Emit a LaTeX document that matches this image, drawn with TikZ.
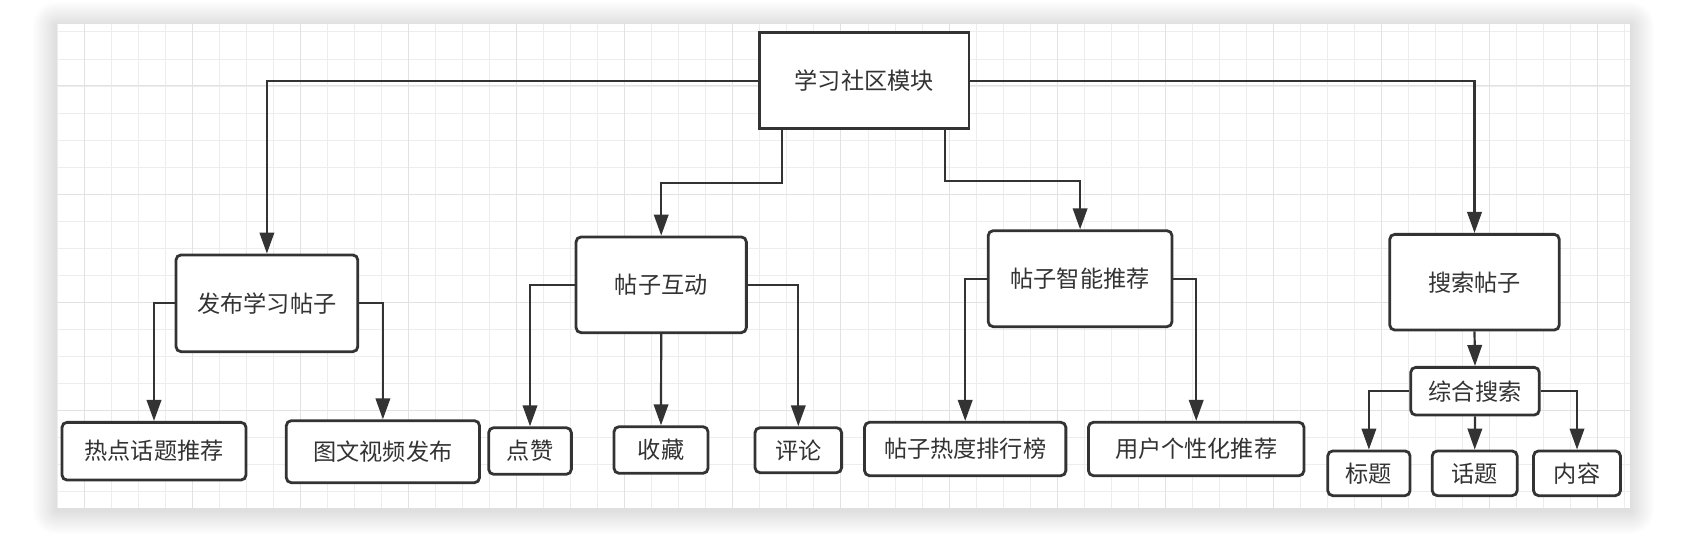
\documentclass[tikz,border=0pt]{standalone}
\usepackage{fontspec}
\newfontfamily\cjk{Noto Sans CJK SC}
\usetikzlibrary{arrows.meta}
\definecolor{ink}{HTML}{333333}
\definecolor{gridminor}{HTML}{EDEDED}
\definecolor{gridmajor}{HTML}{E2E2E2}
\tikzset{
  boxbase/.style={draw=ink, line width=0.056cm, fill=white, text=ink, inner sep=0pt,
    font=\cjk\fontsize{13.2}{15.8}\selectfont},
  rbox/.style 2 args={boxbase, rounded corners=0.1cm, minimum width={#1*0.02cm}, minimum height={#2*0.02cm}},
  sbox/.style 2 args={boxbase, minimum width={#1*0.02cm}, minimum height={#2*0.02cm}},
  conn/.style={draw=ink, line width=0.044cm, -{Triangle[length=0.42cm,width=0.29cm]}},
}
\begin{document}
\begin{tikzpicture}[x=0.02cm,y=-0.02cm]
\useasboundingbox (0,0) rectangle (1701,544);
\fill[white] (0,0) rectangle (1701,544);
% shadow
\foreach \k in {1,...,16}{
  \fill[black, opacity=0.008, rounded corners={0.03cm*\k}] ({57-1.5*\k},{24-1.5*\k+2}) rectangle ({1630+1.5*\k},{508+1.5*\k+2});
}
\fill[white] (57,24) rectangle (1630,508);
% grid
\begin{scope}
\clip (57,24) rectangle (1630,508);
\foreach \i in {0,...,58}{
  \draw[gridminor, line width=0.02cm] ({57.4+27.02*\i},24) -- ({57.4+27.02*\i},508);
}
\foreach \j in {0,...,17}{
  \draw[gridminor, line width=0.02cm] (57,{32+27.02*\j}) -- (1630,{32+27.02*\j});
}
\foreach \i in {0,...,14}{
  \draw[gridmajor, line width=0.02cm] ({84.4+108.08*\i},24) -- ({84.4+108.08*\i},508);
}
\foreach \j in {0,...,3}{
  \draw[gridmajor, line width=0.02cm] (57,{86+108.08*\j}) -- (1630,{86+108.08*\j});
}
\end{scope}
% nodes
\node[sbox={209.7}{96}] (top) at (864.2,80.7) {学习社区模块};
\node[rbox={181.8}{96.7}] (fb) at (266.9,303.3) {发布学习帖子};
\node[rbox={170.3}{95.7}] (hd) at (661.2,284.8) {帖子互动};
\node[rbox={183.8}{96}] (zn) at (1080.1,278.7) {帖子智能推荐};
\node[rbox={169.5}{95.7}] (ss) at (1474.5,282.2) {搜索帖子};
\node[rbox={184}{57.7}] (rd) at (154,451.2) {热点话题推荐};
\node[rbox={193.2}{62}] (tw) at (382.9,451.7) {图文视频发布};
\node[rbox={82.7}{46.6}] (dz) at (530,451) {点赞};
\node[rbox={94}{46.6}] (sc) at (661,450) {收藏};
\node[rbox={86.6}{45}] (pl) at (798.3,450.2) {评论};
\node[rbox={201.3}{53.4}] (rk) at (965.2,449) {帖子热度排行榜};
\node[rbox={215.5}{53.4}] (gx) at (1196.2,449) {用户个性化推荐};
\node[rbox={128.5}{47.7}] (zh) at (1475,391.2) {综合搜索};
\node[rbox={82.3}{44.7}] (bt) at (1368.9,473.3) {标题};
\node[rbox={84.9}{44.7}] (ht) at (1474.7,473.3) {话题};
\node[rbox={86.9}{44.7}] (nr) at (1577,473.3) {内容};
% bend points
\coordinate (b1) at (782.3,183.3);
\coordinate (b2) at (945.3,181);
% connectors
\draw[conn] (top.west) -| (fb.north);
\draw[conn] (top.east) -| (ss.north);
\draw[conn] (b1 |- top.south) -- (b1) -| (hd.north);
\draw[conn] (b2 |- top.south) -- (b2) -| (zn.north);
\draw[conn] (fb.west) -| (rd.north);
\draw[conn] (fb.east) -| (tw.north);
\draw[conn] (hd.west) -| (dz.north);
\draw[conn] (hd.south) -- (sc.north);
\draw[conn] (hd.east) -| (pl.north);
\draw[conn] (zn.west) -| (rk.north);
\draw[conn] (zn.east) -| (gx.north);
\draw[conn] (ss.south) -- (zh.north);
\draw[conn] (zh.west) -| (bt.north);
\draw[conn] (zh.south) -- (ht.north);
\draw[conn] (zh.east) -| (nr.north);
\end{tikzpicture}
\end{document}
